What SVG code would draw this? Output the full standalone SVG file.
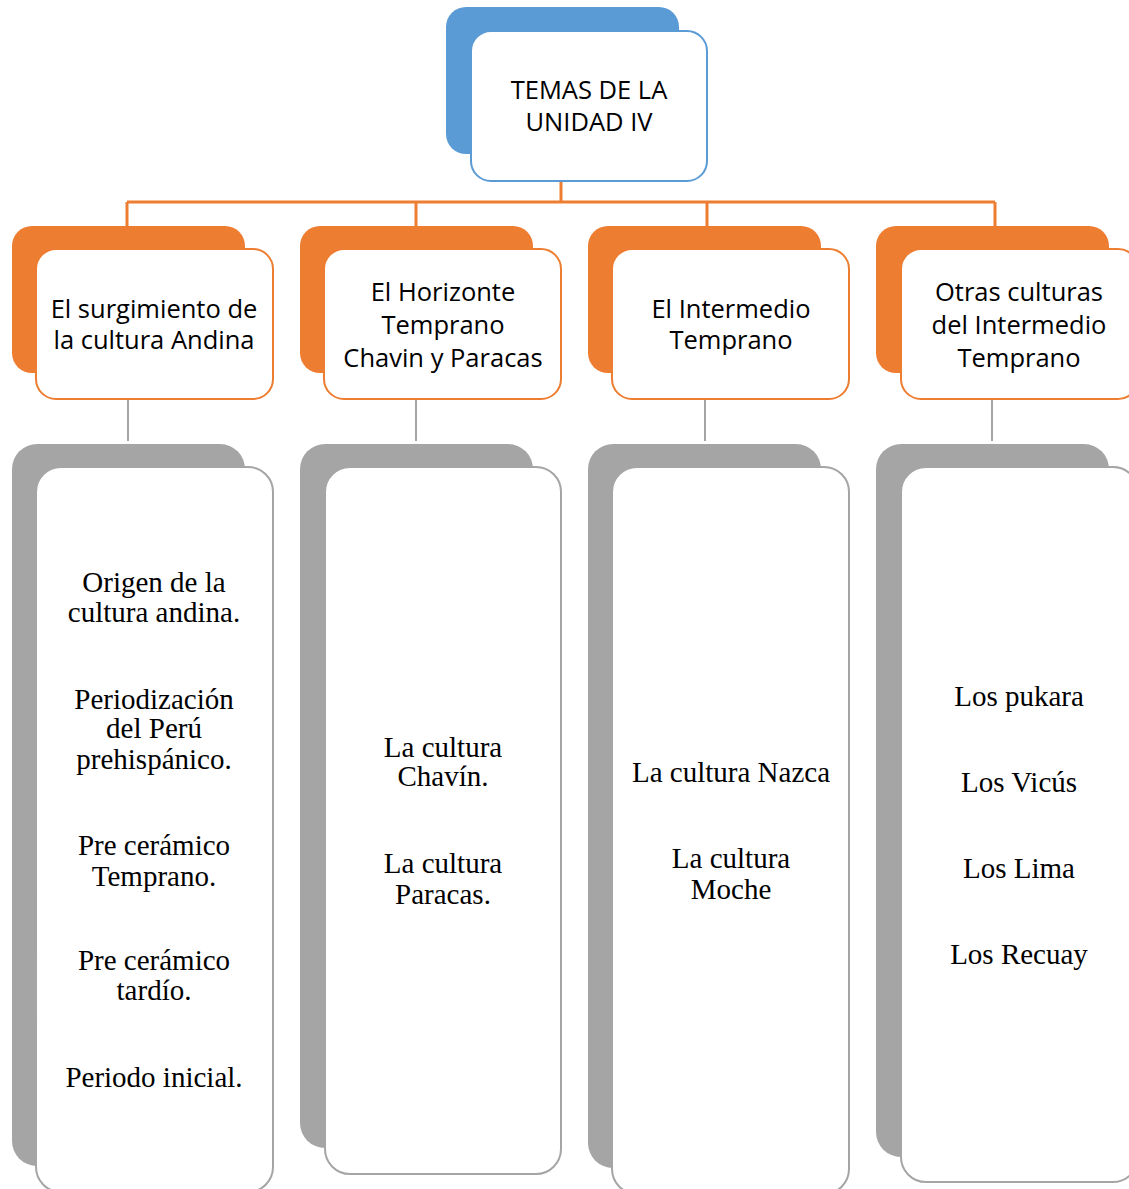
<svg xmlns="http://www.w3.org/2000/svg" width="1129" height="1189" viewBox="0 0 1129 1189">
<style>
.bk-b{fill:#5B9BD5}
.bk-o{fill:#ED7D31}
.bk-g{fill:#A5A5A5}
.fr-b{fill:#fff;stroke:#5B9BD5;stroke-width:2}
.fr-o{fill:#fff;stroke:#ED7D31;stroke-width:2}
.fr-g{fill:#fff;stroke:#A5A5A5;stroke-width:2}
.hd{font-family:"Open Sans",Lato,sans-serif;font-size:25.5px;fill:#000;text-anchor:middle}
.lw{font-family:"Liberation Serif",serif;font-size:29px;fill:#000;text-anchor:middle}
.co{stroke:#ED7D31;stroke-width:3;fill:none}
.cg{stroke:#A5A5A5;stroke-width:2;fill:none}
</style>
<rect width="1129" height="1189" fill="#fff"/>
<g id="connectors">
<path class="co" d="M561 181V202M127 202H995M127 202V226M416 202V226M707 202V226M995 202V226"/>
<path class="cg" d="M128 399V441M416 399V441M705 399V441M992 399V441"/>
</g>
<g id="root">
<rect class="bk-b" x="446" y="7" width="233" height="147" rx="20"/>
<rect class="fr-b" x="471" y="31" width="236" height="150" rx="20"/>
<text class="hd" x="589" y="99">TEMAS DE LA</text>
<text class="hd" x="589" y="131">UNIDAD IV</text>
</g>
<g id="h1">
<rect class="bk-o" x="12" y="226" width="233" height="147" rx="20"/>
<rect class="fr-o" x="36" y="249" width="237" height="150" rx="20"/>
<text class="hd" x="154" y="318">El surgimiento de</text>
<text class="hd" x="154" y="349">la cultura Andina</text>
</g>
<g id="h2">
<rect class="bk-o" x="300" y="226" width="233" height="147" rx="20"/>
<rect class="fr-o" x="324" y="249" width="237" height="150" rx="20"/>
<text class="hd" x="443" y="301">El Horizonte</text>
<text class="hd" x="443" y="334">Temprano</text>
<text class="hd" x="443" y="367">Chavin y Paracas</text>
</g>
<g id="h3">
<rect class="bk-o" x="588" y="226" width="233" height="147" rx="20"/>
<rect class="fr-o" x="612" y="249" width="237" height="150" rx="20"/>
<text class="hd" x="731" y="318">El Intermedio</text>
<text class="hd" x="731" y="349">Temprano</text>
</g>
<g id="h4">
<rect class="bk-o" x="876" y="226" width="233" height="147" rx="20"/>
<rect class="fr-o" x="901" y="249" width="237" height="150" rx="20"/>
<text class="hd" x="1019" y="301">Otras culturas</text>
<text class="hd" x="1019" y="334">del Intermedio</text>
<text class="hd" x="1019" y="367">Temprano</text>
</g>
<g id="l1">
<rect class="bk-g" x="12" y="444" width="233" height="722" rx="25"/>
<rect class="fr-g" x="36" y="467" width="237" height="725" rx="25"/>
<text class="lw" x="154" y="592">Origen de la</text>
<text class="lw" x="154" y="622">cultura andina.</text>
<text class="lw" x="154" y="709">Periodización</text>
<text class="lw" x="154" y="738">del Perú</text>
<text class="lw" x="154" y="769">prehispánico.</text>
<text class="lw" x="154" y="855">Pre cerámico</text>
<text class="lw" x="154" y="886">Temprano.</text>
<text class="lw" x="154" y="970">Pre cerámico</text>
<text class="lw" x="154" y="1000">tardío.</text>
<text class="lw" x="154" y="1087">Periodo inicial.</text>
</g>
<g id="l2">
<rect class="bk-g" x="300" y="444" width="233" height="704" rx="25"/>
<rect class="fr-g" x="325" y="467" width="236" height="707" rx="25"/>
<text class="lw" x="443" y="757">La cultura</text>
<text class="lw" x="443" y="786">Chavín.</text>
<text class="lw" x="443" y="873">La cultura</text>
<text class="lw" x="443" y="904">Paracas.</text>
</g>
<g id="l3">
<rect class="bk-g" x="588" y="444" width="233" height="724" rx="25"/>
<rect class="fr-g" x="612" y="467" width="237" height="727" rx="25"/>
<text class="lw" x="731" y="782">La cultura Nazca</text>
<text class="lw" x="731" y="868">La cultura</text>
<text class="lw" x="731" y="899">Moche</text>
</g>
<g id="l4">
<rect class="bk-g" x="876" y="444" width="233" height="713" rx="25"/>
<rect class="fr-g" x="901" y="467" width="237" height="715" rx="25"/>
<text class="lw" x="1019" y="706">Los pukara</text>
<text class="lw" x="1019" y="792">Los Vicús</text>
<text class="lw" x="1019" y="878">Los Lima</text>
<text class="lw" x="1019" y="964">Los Recuay</text>
</g>
</svg>
